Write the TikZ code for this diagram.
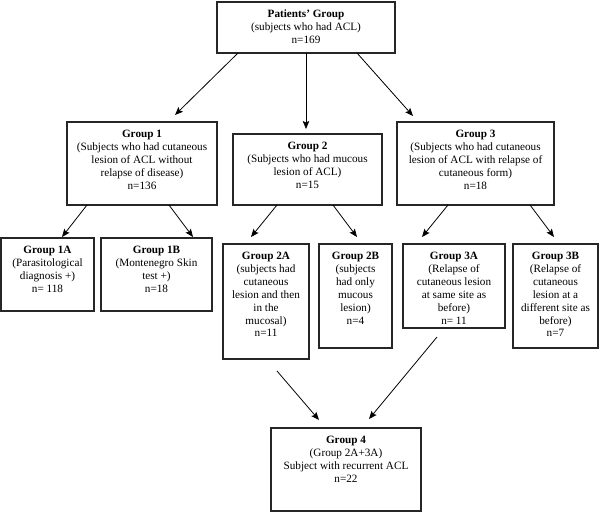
\documentclass[tikz,border=0pt]{standalone}
\usepackage{fontspec}
\setmainfont{Liberation Serif}
\usetikzlibrary{arrows.meta,calc}
\newcommand{\bxt}[3]{\begin{minipage}[c][#2pt][t]{#1pt}\centering\fontsize{11.2}{12.9}\selectfont\rule{0pt}{15.5pt}#3\end{minipage}}
\tikzset{
  box/.style={draw=black!85, line width=1.1pt, inner sep=0pt, outer sep=0pt, rectangle},
  arr/.style={draw=black, line width=0.8pt, -{Stealth[length=8pt,width=6.5pt,inset=1.5pt]}}
}
\begin{document}
\begin{tikzpicture}[x=1pt,y=-1pt]
\useasboundingbox (0,0) rectangle (600,512);
% boxes (centers in pixel coords, y downward)
\node[box] (top) at (306,27.5) {\bxt{178}{51}{\textbf{Patients’ Group}\\(subjects who had ACL)\\n=169}};
\node[box] (g1) at (142,163.5) {\bxt{150}{83}{\textbf{Group 1}\\(Subjects who had cutaneous\\lesion of ACL without\\relapse of disease)\\n=136}};
\node[box] (g2) at (307.5,169.5) {\bxt{149}{71}{\textbf{Group 2}\\(Subjects who had mucous\\lesion of ACL)\\n=15}};
\node[box] (g3) at (475.5,163.5) {\bxt{157}{83}{\textbf{Group 3}\\(Subjects who had cutaneous\\lesion of ACL with relapse of\\cutaneous form)\\n=18}};
\node[box] (g1a) at (47.5,274.5) {\bxt{93}{73}{\textbf{Group 1A}\\(Parasitological\\diagnosis +)\\n= 118}};
\node[box] (g1b) at (156.5,274.5) {\bxt{111}{73}{\textbf{Group 1B}\\(Montenegro Skin\\test +)\\n=18}};
\node[box] (g2a) at (266,301.5) {\bxt{86}{115}{\textbf{Group 2A}\\(subjects had\\cutaneous\\lesion and then\\in the\\mucosal)\\n=11}};
\node[box] (g2b) at (355.5,296) {\bxt{73}{104}{\textbf{Group 2B}\\(subjects\\had only\\mucous\\lesion)\\n=4}};
\node[box] (g3a) at (454,286) {\bxt{102}{84}{\textbf{Group 3A}\\(Relapse of\\cutaneous lesion\\at same site as\\before)\\n= 11}};
\node[box] (g3b) at (555.5,296) {\bxt{85}{104}{\textbf{Group 3B}\\(Relapse of\\cutaneous\\lesion at a\\different site as\\before)\\n=7}};
\node[box] (g4) at (346,469.5) {\bxt{150}{83}{\textbf{Group 4}\\(Group 2A+3A)\\Subject with recurrent ACL\\n=22}};
% connectors
\draw[arr] ([shift={(-68,0)}]top.south) -- ([shift={(33,-7)}]g1.north);
\draw[arr] (top.south) -- ([shift={(0,-5)}]top.south |- g2.north);
\draw[arr] ([shift={(51,0)}]top.south) -- ([shift={(-62.5,-6)}]g3.north);
\draw[arr] ([shift={(-55,0)}]g1.south) -- ([shift={(14.5,-1)}]g1a.north);
\draw[arr] ([shift={(27,0)}]g1.south) -- ([shift={(36.5,-1)}]g1b.north);
\draw[arr] ([shift={(-30.5,0)}]g2.south) -- ([shift={(-15,-7)}]g2a.north);
\draw[arr] ([shift={(25.5,0)}]g2.south) -- ([shift={(1.5,-7)}]g2b.north);
\draw[arr] ([shift={(-27.5,0)}]g3.south) -- ([shift={(-32,-7)}]g3a.north);
\draw[arr] ([shift={(54.5,0)}]g3.south) -- ([shift={(-1.5,-7)}]g3b.north);
\draw[arr] ([shift={(11,12)}]g2a.south) -- ([shift={(-27,-8)}]g4.north);
\draw[arr] ([shift={(-17,9)}]g3a.south) -- ([shift={(23,-9)}]g4.north);
\end{tikzpicture}
\end{document}
